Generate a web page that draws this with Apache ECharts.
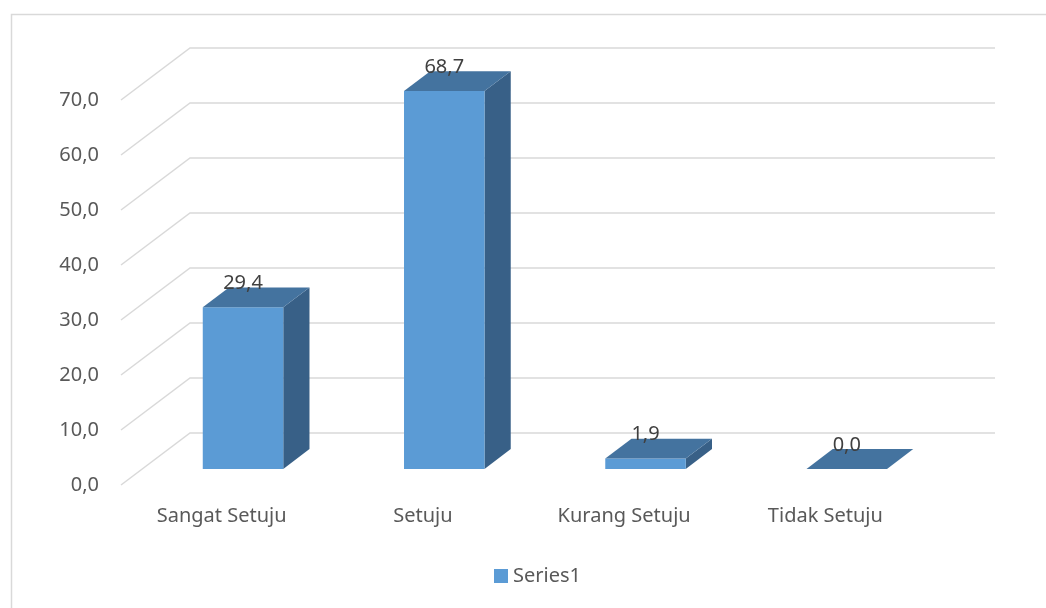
<!DOCTYPE html>
<html>
<head>
<meta charset="utf-8">
<title>Tingkat Persetujuan</title>
<script src="https://cdn.jsdelivr.net/npm/echarts@6/dist/echarts.min.js"></script>
<style>
  html, body { margin: 0; padding: 0; background: #ffffff; }
  #chart { width: 1046px; height: 608px; }
</style>
</head>
<body>
<div id="chart"></div>
<script>
// Response categories and percentage values
const categories = ['Sangat Setuju', 'Setuju', 'Kurang Setuju', 'Tidak Setuju'];
const values = [29.4, 68.7, 1.9, 0.0];
const seriesName = 'Series1';
// Value axis ticks
const yTicks = [0, 10, 20, 30, 40, 50, 60, 70];

const FONT = '"Noto Sans", "Open Sans", sans-serif';
const fmt = v => v.toFixed(1).replace('.', ',');

// Perspective of the back wall, relative to the front plane (pixels)
const WALL_DX = 69, WALL_DY = -52;
const BAR_FRONT = 0.31, BAR_BACK = 0.69;   // bar depth as a share of the wall depth
const BAR_WIDTH = 0.4;                     // share of a category band

const chart = echarts.init(document.getElementById('chart'), null, { renderer: 'canvas' });

function renderGrid(params, api) {
  const cs = params.coordSys;
  const v = api.value(1);
  const y = api.coord([0, v])[1];
  const x0 = cs.x;
  return {
    type: 'polyline',
    shape: { points: [[x0, y], [x0 + WALL_DX, y + WALL_DY], [x0 + cs.width + WALL_DX, y + WALL_DY]] },
    style: { stroke: '#d9d9d9', lineWidth: 1.5, fill: null },
    silent: true
  };
}

function renderBar(params, api) {
  const idx = api.value(0);
  const val = api.value(1);
  const base = api.coord([idx, 0]);
  const top = api.coord([idx, val]);
  const w = api.size([1, 0])[0] * BAR_WIDTH;
  const fx = WALL_DX * BAR_FRONT, fy = WALL_DY * BAR_FRONT;
  const dx = WALL_DX * (BAR_BACK - BAR_FRONT), dy = WALL_DY * (BAR_BACK - BAR_FRONT);
  const xl = base[0] + fx - w / 2, xr = xl + w;
  const yb = base[1] + fy, yt = top[1] + fy;
  const children = [];
  if (yb - yt > 0.01) {
    children.push({
      type: 'polygon',
      shape: { points: [[xr, yt], [xr + dx, yt + dy], [xr + dx, yb + dy], [xr, yb]] },
      style: { fill: '#386087' }
    });
    children.push({
      type: 'rect',
      shape: { x: xl, y: yt, width: w, height: yb - yt },
      style: { fill: '#5b9bd5' }
    });
  }
  children.push({
    type: 'polygon',
    shape: { points: [[xl, yt], [xr, yt], [xr + dx, yt + dy], [xl + dx, yt + dy]] },
    style: { fill: '#44739f' }
  });
  children.push({
    type: 'text',
    style: {
      text: fmt(val), x: base[0] + fx, y: yt - 24,
      align: 'center', verticalAlign: 'middle',
      fill: '#404040', font: '20px ' + FONT
    }
  });
  return { type: 'group', children };
}

chart.setOption({
  animation: false,
  backgroundColor: '#ffffff',
  textStyle: { fontFamily: FONT },
  graphic: [{
    type: 'rect', left: 9, top: 12, silent: true,
    shape: { x: 0, y: 0, width: 1100, height: 700 },
    style: { fill: null, stroke: '#d9d9d9', lineWidth: 1.5 }
  }],
  legend: {
    data: [{ name: seriesName, icon: 'rect' }],
    left: 489, top: 561,
    itemWidth: 14, itemHeight: 14, itemGap: 10,
    textStyle: { color: '#595959', fontSize: 20, fontFamily: FONT }
  },
  grid: { left: 121, top: 100, width: 805, height: 385, containLabel: false },
  xAxis: {
    type: 'category', data: categories, boundaryGap: true,
    axisLine: { show: false }, axisTick: { show: false },
    axisLabel: { color: '#595959', fontSize: 20, fontFamily: FONT, margin: 21 }
  },
  yAxis: {
    type: 'value', min: yTicks[0], max: yTicks[yTicks.length - 1], interval: yTicks[1] - yTicks[0],
    axisLine: { show: false }, axisTick: { show: false }, splitLine: { show: false },
    axisLabel: { color: '#595959', fontSize: 20, fontFamily: FONT, margin: 22, formatter: fmt }
  },
  series: [
    {
      name: 'grid', type: 'custom', silent: true, z: 1, clip: false,
      renderItem: renderGrid,
      encode: { x: 0, y: 1 },
      data: yTicks.map(t => [0, t]),
      tooltip: { show: false }
    },
    {
      name: seriesName, type: 'custom', z: 2, clip: false,
      itemStyle: { color: '#5b9bd5' },
      renderItem: renderBar,
      encode: { x: 0, y: 1 },
      data: values.map((v, i) => [i, v])
    }
  ]
});
</script>
</body>
</html>
